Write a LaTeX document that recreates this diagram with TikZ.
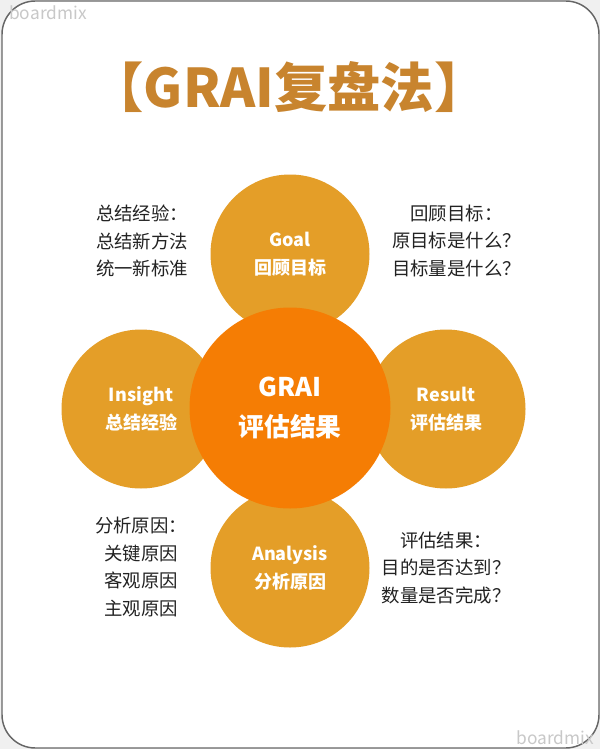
\documentclass[tikz,border=0pt]{standalone}
\usepackage{fontspec}
\setmainfont{Noto Sans CJK SC}
\definecolor{petal}{HTML}{E49E28}
\definecolor{core}{HTML}{F57D04}
\definecolor{headline}{HTML}{C8842E}
\definecolor{frameline}{HTML}{666666}
\definecolor{outside}{HTML}{F0F0F0}
\definecolor{watermark}{HTML}{C8C8C8}
\definecolor{notetext}{HTML}{222222}
\tikzset{
  petalnode/.style={circle, fill=petal, minimum size=119.25pt, inner sep=0pt,
    text=white, font=\fontsize{13.5}{21}\selectfont\bfseries, align=center},
  corenode/.style={circle, fill=core, minimum size=150.75pt, inner sep=0pt,
    text=white, font=\fontsize{19.3}{30}\selectfont\bfseries, align=center},
  notenode/.style={text=notetext, font=\fontsize{13.8}{20.6}\selectfont, align=center},
  marknode/.style={text=watermark, font=\fontsize{13}{15}\selectfont}
}
\begin{document}
\begin{tikzpicture}[x=0.75pt,y=-0.75pt]
  % Page: light gray outside, white card with a rounded gray frame
  \fill [outside] (0,0) rectangle (600,749);
  \useasboundingbox (0,0) rectangle (600,749);
  \path [draw=frameline, line width=1.1pt, fill=white, rounded corners=25pt] (2,1) rectangle (599,748);

  % Watermarks
  \node [marknode] (markTop) at (48,13) {boardmix};
  \node [marknode] (markBottom) at (555,738) {boardmix};

  % Title
  \node [text=headline, font=\fontsize{40}{44}\selectfont\bfseries] (title) at (289,87) {【GRAI复盘法】};

  % The four petals: drawn first, the core circle covers them
  \node [petalnode] (goal)     at (290,254) {Goal\\回顾目标};
  \node [petalnode] (insight)  at (141,409) {Insight\\总结经验};
  \node [petalnode] (result)   at (446,409) {Result\\评估结果};
  \node [petalnode] (analysis) at (290,568) {Analysis\\分析原因};

  % The core
  \node [corenode] (grai) at (290,408) {GRAI\\评估结果};

  % Notes beside the petals
  \node [notenode] (noteInsight)  at (142,241)   {总结经验：\\总结新方法\\统一新标准};
  \node [notenode] (noteGoal)     at (456.5,241) {回顾目标：\\原目标是什么？\\目标量是什么？};
  \node [notenode] (noteAnalysis) at (141,567)   {分析原因：\\关键原因\\客观原因\\主观原因};
  \node [notenode] (noteResult)   at (446,568)   {评估结果：\\目的是否达到？\\数量是否完成？};
\end{tikzpicture}
\end{document}
